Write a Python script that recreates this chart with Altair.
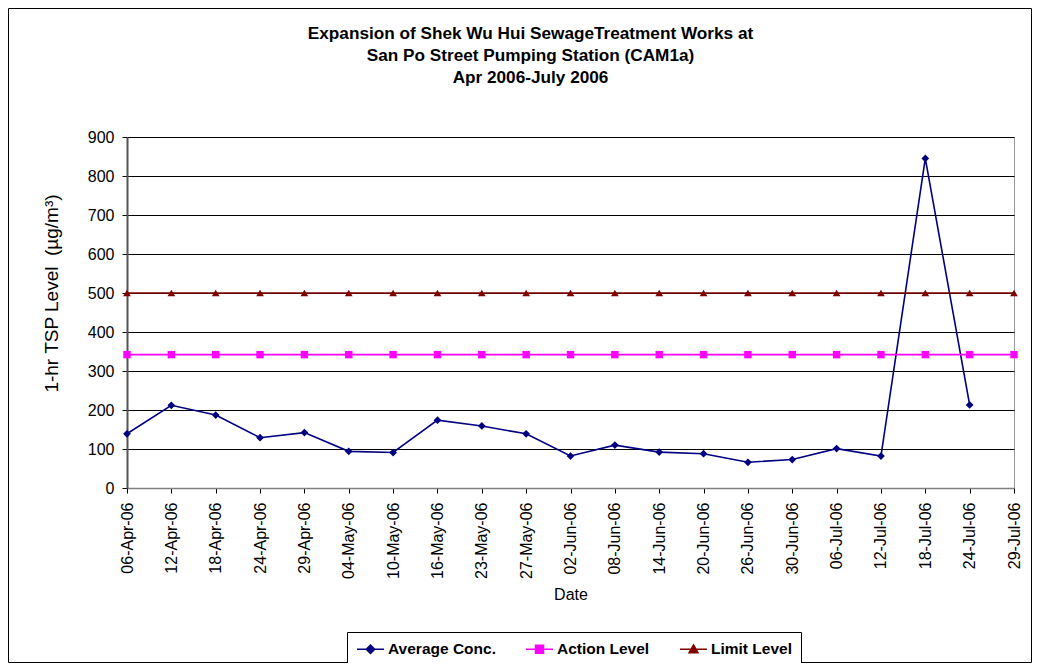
import altair as alt
import pandas as pd

dates = ["06-Apr-06", "12-Apr-06", "18-Apr-06", "24-Apr-06", "29-Apr-06",
         "04-May-06", "10-May-06", "16-May-06", "23-May-06", "27-May-06",
         "02-Jun-06", "08-Jun-06", "14-Jun-06", "20-Jun-06", "26-Jun-06",
         "30-Jun-06", "06-Jul-06", "12-Jul-06", "18-Jul-06", "24-Jul-06",
         "29-Jul-06"]
average_conc = [139, 212, 187, 129, 142, 94, 91, 174, 159, 139,
                82, 110, 92, 88, 66, 73, 101, 82, 845, 213, None]
action_level = [342, 342, 342, 342, 342, 342, 342, 342, 342, 342,
                342, 342, 342, 342, 342, 342, 342, 342, 342, 342, 342]
limit_level = [500, 500, 500, 500, 500, 500, 500, 500, 500, 500,
               500, 500, 500, 500, 500, 500, 500, 500, 500, 500, 500]
series_names = ["Average Conc.", "Action Level", "Limit Level"]
series_colors = ["#000080", "#FF00FF", "#800000"]
series_shapes = ["diamond", "square", "triangle-up"]
series_sizes = [60, 55, 60]
y_ticks = [0, 100, 200, 300, 400, 500, 600, 700, 800, 900]

rows = []
for name, vals in zip(series_names, [average_conc, action_level, limit_level]):
    for d, v in zip(dates, vals):
        if v is not None:
            rows.append({"Date": d, "Series": name, "Value": v})
df = pd.DataFrame(rows)

FONT = "Liberation Sans"

x_enc = alt.X("Date:O", sort=dates, scale=alt.Scale(padding=0),
              axis=alt.Axis(title="Date", labelAngle=270, labelFontSize=16,
                            labelPadding=9, tickSize=5, tickColor="#000000",
                            domainColor="#808080", domainWidth=1.5,
                            titleFontSize=16, titleFontWeight="normal",
                            titlePadding=8, labelColor="#000000",
                            titleColor="#000000"))
y_enc = alt.Y("Value:Q", scale=alt.Scale(domain=[0, 900], nice=False),
              axis=alt.Axis(title="1-hr TSP Level\u00a0\u00a0(\u00b5g/m\u00b3)", values=y_ticks,
                            labelFontSize=16, labelPadding=8, tickSize=5,
                            tickColor="#000000", domainColor="#555555",
                            domainWidth=2, grid=True, gridColor="#000000",
                            gridWidth=1, titleFontSize=19,
                            titleFontWeight="normal", titleAngle=270,
                            titleX=-70, titleY=156, titleAlign="center",
                            titleBaseline="alphabetic", labelColor="#000000",
                            titleColor="#000000"))

base = alt.Chart(df).encode(x=x_enc, y=y_enc)

layers = []
for name, col in zip(series_names, series_colors):
    layers.append(base.transform_filter(alt.datum.Series == name)
                  .mark_line(strokeWidth=1.6, color=col))
for name, col, shp, sz in zip(series_names, series_colors, series_shapes, series_sizes):
    layers.append(base.transform_filter(alt.datum.Series == name)
                  .mark_point(shape=shp, filled=True, size=sz, opacity=1, color=col))

legend_paths = [
    "M-1,0H2.857M0.93,-0.6L1.53,0L0.93,0.6L0.33,0Z",
    "M-1,0H2.857M0.36,-0.57H1.5V0.57H0.36Z",
    "M-1,0H2.857M0.93,-0.62L1.57,0.5H0.29Z",
]
leg = alt.Legend(orient="none", legendX=220, legendY=495,
                 direction="horizontal", columns=3, columnPadding=27,
                 labelOffset=16, labelFontSize=15.5, labelFontWeight="bold",
                 labelFont=FONT, labelColor="#000000", symbolSize=196,
                 symbolStrokeWidth=1.5, symbolOpacity=1, padding=9,
                 strokeColor="#000000", fillColor="#FFFFFF",
                 labelBaseline="middle")
legend_layer = base.mark_point(filled=True, opacity=1, size=0).encode(
    shape=alt.Shape("Series:N", scale=alt.Scale(domain=series_names, range=legend_paths),
                    legend=leg, title=""),
    fill=alt.Fill("Series:N", scale=alt.Scale(domain=series_names, range=series_colors),
                  legend=leg, title=""),
    stroke=alt.Stroke("Series:N", scale=alt.Scale(domain=series_names, range=series_colors),
                      legend=leg, title=""),
)
layers.append(legend_layer)

frame = alt.Chart(alt.Data(values=[{"k": 1}])).mark_rect(
    fill="#FFFFFF", fillOpacity=0, stroke="#000000", strokeWidth=1).encode(
    x=alt.value(-118.5), x2=alt.value(904.5), y=alt.value(-128.5), y2=alt.value(525.5))
layers.append(frame)

chart = alt.layer(*layers).properties(
    width=887, height=351,
    autosize=alt.AutoSizeParams(type="none"),
    padding={"left": 119, "top": 129, "right": 18, "bottom": 175},
    title=alt.TitleParams(
        text=["Expansion of Shek Wu Hui SewageTreatment Works at",
              "San Po Street Pumping Station (CAM1a)",
              "Apr 2006-July 2006"],
        fontSize=17.2, fontWeight="bold", font=FONT, color="#000000",
        anchor="middle", frame="group", dx=-40, offset=-78, lineHeight=22),
).configure(font=FONT, background="#FFFFFF").configure_view(
    stroke="#999999", strokeWidth=1
).configure_axis(labelFont=FONT, titleFont=FONT)

chart.save("out.html", embed_options={"renderer": "svg", "actions": False})
